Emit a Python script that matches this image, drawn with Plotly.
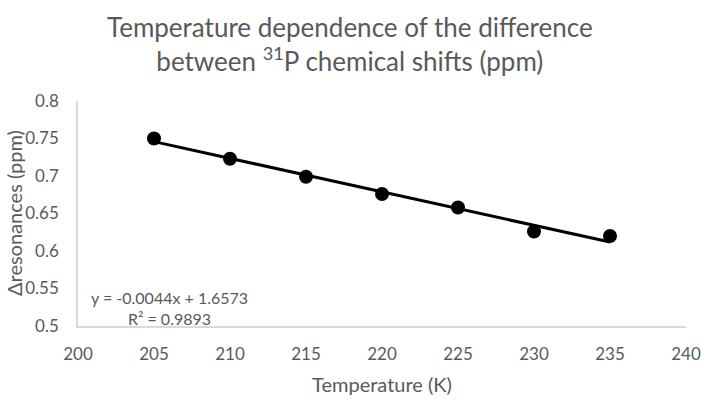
import numpy as np
import plotly.graph_objects as go

temperature = [205, 210, 215, 220, 225, 230, 235]
delta_res = [0.750, 0.723, 0.699, 0.676, 0.658, 0.626, 0.620]
x_ticks = [200, 205, 210, 215, 220, 225, 230, 235, 240]
y_ticks = [0.5, 0.55, 0.6, 0.65, 0.7, 0.75, 0.8]
y_tick_text = ["0.5", "0.55", "0.6", "0.65", "0.7", "0.75", "0.8"]
eq_text = "y = -0.0044x + 1.6573<br>R² = 0.9893"
title_text = "Temperature dependence of the difference<br>between <sup>31</sup>P chemical shifts (ppm)"
x_title = "Temperature (K)"
y_title = "Δresonances (ppm)"

slope, intercept = np.polyfit(temperature, delta_res, 1)
fit_x = [min(temperature), max(temperature)]
fit_y = [slope * v + intercept for v in fit_x]

GREY = "#595959"
FONT = "Lato, 'Open Sans', sans-serif"

fig = go.Figure()
fig.add_trace(go.Scatter(x=fit_x, y=fit_y, mode="lines",
                         line=dict(color="black", width=3), hoverinfo="skip"))
fig.add_trace(go.Scatter(x=temperature, y=delta_res, mode="markers",
                         marker=dict(color="black", size=14)))

fig.update_layout(
    width=701, height=404,
    margin=dict(l=78, r=15, t=101, b=78),
    paper_bgcolor="white", plot_bgcolor="white",
    showlegend=False,
    font=dict(family=FONT, color=GREY),
    xaxis=dict(range=[200, 240], tickvals=x_ticks, showgrid=False, zeroline=False,
               showline=True, linecolor="#d9d9d9", linewidth=1.5, ticks="",
               tickfont=dict(size=17, color=GREY), ticklabelstandoff=12, automargin=False,
               title=dict(text=x_title, font=dict(size=20, color=GREY), standoff=15)),
    yaxis=dict(range=[0.5, 0.8], tickvals=y_ticks, ticktext=y_tick_text, showgrid=False,
               zeroline=False, showline=True, linecolor="#d9d9d9", linewidth=1.5, ticks="",
               tickfont=dict(size=17, color=GREY), ticklabelstandoff=14, automargin=False),
    annotations=[
        dict(text=title_text, xref="paper", yref="paper", x=0.447, y=1.252,
             xanchor="center", yanchor="middle", align="center", showarrow=False,
             font=dict(size=26, color=GREY, family=FONT)),
        dict(text=y_title, xref="paper", yref="paper", x=-0.106, y=0.50,
             xanchor="center", yanchor="middle", textangle=-90, showarrow=False,
             font=dict(size=20, color=GREY, family=FONT)),
        dict(text=eq_text, xref="paper", yref="paper", x=0.151, y=0.078,
             xanchor="center", yanchor="middle", align="center", showarrow=False,
             font=dict(size=16, color=GREY, family=FONT)),
    ],
)

fig.write_html("out.html", config={"displayModeBar": False},
               post_script="document.body.style.margin='0px';document.body.style.overflow='hidden';")
